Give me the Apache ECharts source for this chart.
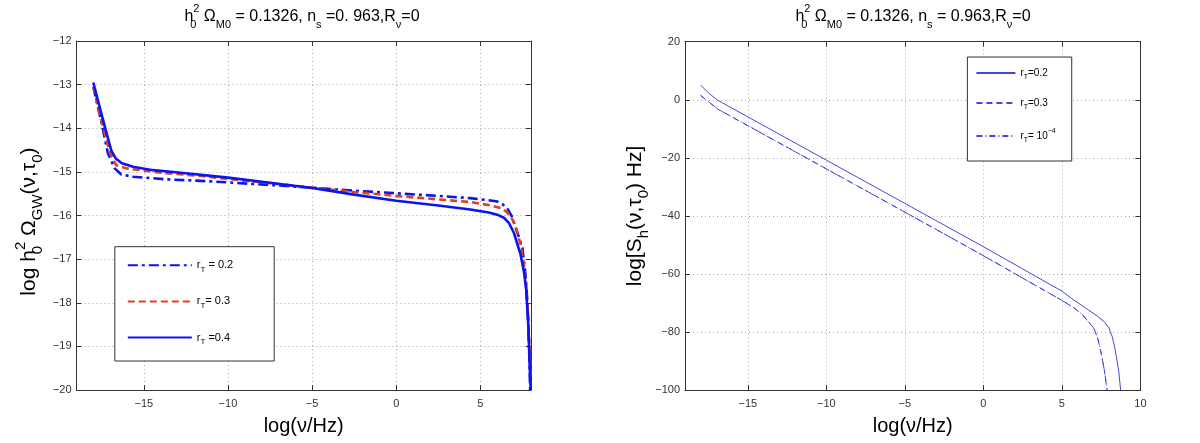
<!DOCTYPE html>
<html><head><meta charset="utf-8">
<script src="https://cdn.jsdelivr.net/npm/echarts@6/dist/echarts.min.js"></script>
<style>html,body{margin:0;padding:0;background:#fff}#c{width:1200px;height:443px}</style>
</head><body><div id="c"></div>
<script>
// ---------- data ----------
// Left panel: log h0^2 Omega_GW(nu,tau0) vs log(nu/Hz)
const omegaR02 = [[-18,-13.05],[-17.5,-13.9],[-17.13,-14.58],[-16.73,-14.92],[-16.34,-15.06],[-15.64,-15.11],[-13.66,-15.17],[-11.88,-15.2],[-10,-15.24],[-7.5,-15.3],[-5,-15.36],[-2.5,-15.43],[0,-15.49],[2.5,-15.55],[4.4,-15.6],[5.5,-15.65],[6.02,-15.68],[6.35,-15.75],[6.59,-15.83],[6.85,-16.0],[7.04,-16.21],[7.3,-16.5],[7.5,-16.74],[7.7,-17.4],[7.82,-18.2],[7.92,-19.3],[7.96,-20]];
const omegaR03 = [[-18,-13.05],[-17.5,-13.85],[-17.03,-14.55],[-16.63,-14.85],[-16.0,-14.92],[-15.0,-14.97],[-13.66,-15.03],[-12,-15.08],[-10,-15.16],[-7.5,-15.26],[-5,-15.36],[-2.5,-15.46],[0,-15.55],[2.5,-15.63],[4.4,-15.69],[5.5,-15.76],[6.25,-15.83],[6.6,-15.93],[6.82,-16.02],[7.1,-16.25],[7.39,-16.66],[7.6,-17.15],[7.75,-17.7],[7.88,-18.6],[7.96,-19.4],[8.0,-19.9]];
const omegaR04 = [[-18,-12.95],[-17.6,-13.55],[-17.23,-14.09],[-16.93,-14.51],[-16.65,-14.7],[-16.3,-14.8],[-15.64,-14.88],[-14.45,-14.96],[-12.8,-15.02],[-10,-15.13],[-7.5,-15.25],[-5,-15.37],[-2.5,-15.52],[0,-15.66],[2.5,-15.77],[4.4,-15.86],[5.5,-15.93],[6.0,-15.98],[6.4,-16.05],[6.7,-16.17],[7.0,-16.4],[7.39,-16.89],[7.6,-17.3],[7.73,-17.72],[7.85,-18.5],[7.95,-19.6],[8.0,-20]];
// Right panel: log[S_h(nu,tau0) Hz] vs log(nu/Hz)
const shR02 = [[-18,5],[-17.45,2.1],[-16.92,-0.17],[-10,-20.8],[-5,-35.7],[0,-50.6],[5.03,-66.0],[5.6,-68.4],[6.5,-71.7],[7.28,-74.6],[7.7,-76.5],[8.0,-78.6],[8.2,-81.5],[8.37,-85.4],[8.62,-93.4],[8.74,-100]];
const shR03 = [[-18,1.5],[-17.45,-0.9],[-16.92,-3.2],[-10,-23.8],[-5,-38.7],[0,-53.7],[5.03,-69.2],[5.84,-71.9],[6.3,-74.0],[7.03,-78.6],[7.3,-82.5],[7.52,-87.7],[7.7,-93],[7.88,-100]];
const shR1e4 = [[-18,1.5],[-17.45,-0.9],[-16.92,-3.2],[-10,-23.8],[-5,-38.7],[0,-53.7],[5.03,-69.2],[5.84,-71.9],[6.3,-74.0],[7.03,-78.6],[7.3,-82.5],[7.52,-87.7],[7.7,-93],[7.88,-100]];
// axis ranges
const leftXRange = [-19, 8], leftYRange = [-20, -12], leftYStep = 1;
const rightXRange = [-19, 10], rightYRange = [-100, 20], rightYStep = 20;
// texts
const leftTitle = '{m|h}{z|0}{p|2}{m| Ω}{b|M0}{m| = 0.1326, n}{b|s}{m| =0. 963,R}{b|ν}{m|=0}';
const rightTitle = '{m|h}{z|0}{p|2}{m| Ω}{b|M0}{m| = 0.1326, n}{b|s}{m| = 0.963,R}{b|ν}{m|=0}';
const leftYName = '{m|log h}{z|0}{p|2}{m| Ω}{b|GW}{m|(ν,τ}{b|0}{m|)}';
const rightYName = '{m|log[S}{b|h}{m|(ν,τ}{b|0}{m|) Hz]}';
const xName = 'log(ν/Hz)';
const leftLegend = {L02:'{a|r}{s|T}{a| = 0.2}', L03:'{a|r}{s|T}{a|= 0.3}', L04:'{a|r}{s|T}{a| =0.4}'};
const rightLegend = {R02:'{a|r}{s|T}{a|=0.2}', R03:'{a|r}{s|T}{a|=0.3}', R1e4:'{a|r}{s|T}{a|= 10}{p|−4}'};

// ---------- chart ----------
const FONT = 'Liberation Sans, Arial, Helvetica, sans-serif';
const AX = '#333';
const minus = v => String(v).replace('-', '−');
function bigRich(fs, small) {
  return {
    m: {fontSize: fs, fontFamily: FONT, color: '#000', fill: '#000', lineHeight: fs + 11},
    b: {fontSize: small, fontFamily: FONT, color: '#000', fill: '#000', lineHeight: small + 1, verticalAlign: 'bottom'},
    p: {fontSize: small, fontFamily: FONT, color: '#000', fill: '#000', lineHeight: small + 1, verticalAlign: 'top'},
    z: {fontSize: small, fontFamily: FONT, color: '#000', fill: '#000', lineHeight: small + 1, verticalAlign: 'bottom', width: 0}
  };
}
function axes(g, xr, yr, ystep, showMaxX, yName, yGap, yPad) {
  const xs = [{
    type: 'value', gridIndex: g, min: xr[0], max: xr[1], position: 'bottom', splitNumber: 5,
    axisLine: {show: true, onZero: false, lineStyle: {color: AX, width: 1}},
    axisTick: {show: true, inside: true, length: 5, lineStyle: {color: AX}},
    axisLabel: {fontSize: 11, color: '#333', fontFamily: FONT, margin: 8,
      formatter: v => (v % 5 === 0 && (showMaxX || v !== xr[1])) ? minus(v) : ''},
    splitLine: {show: true, lineStyle: {color: '#aaa', type: [1, 3]}},
    name: xName, nameLocation: 'middle', nameGap: 11,
    nameTextStyle: {fontSize: 20, fontFamily: FONT, color: '#000', lineHeight: 24}
  }, {
    type: 'value', gridIndex: g, min: xr[0], max: xr[1], position: 'top', splitNumber: 5,
    axisLine: {show: true, onZero: false, lineStyle: {color: AX, width: 1}},
    axisTick: {show: true, inside: true, length: 5, lineStyle: {color: AX}},
    axisLabel: {show: false}, splitLine: {show: false}
  }];
  const ys = [{
    type: 'value', gridIndex: g, min: yr[0], max: yr[1], interval: ystep, position: 'left',
    axisLine: {show: true, onZero: false, lineStyle: {color: AX, width: 1}},
    axisTick: {show: true, inside: true, length: 5, lineStyle: {color: AX}},
    axisLabel: {fontSize: 11, color: '#333', fontFamily: FONT, margin: 5, formatter: v => minus(v)},
    splitLine: {show: true, lineStyle: {color: '#aaa', type: [1, 3]}},
    name: yName, nameLocation: 'middle', nameGap: yGap, nameRotate: 90,
    nameTextStyle: {rich: bigRich(21, 15), padding: yPad}
  }, {
    type: 'value', gridIndex: g, min: yr[0], max: yr[1], interval: ystep, position: 'right',
    axisLine: {show: true, onZero: false, lineStyle: {color: AX, width: 1}},
    axisTick: {show: true, inside: true, length: 5, lineStyle: {color: AX}},
    axisLabel: {show: false}, splitLine: {show: false}
  }];
  return {xs, ys};
}
const A = axes(0, leftXRange, leftYRange, leftYStep, false, leftYName, 31, [0, 12, 0, 0]);
const B = axes(1, rightXRange, rightYRange, rightYStep, true, rightYName, 33, [0, 0, 0, 0]);

function line(name, data, xi, yi, color, width, type) {
  return {name, type: 'line', data, xAxisIndex: xi, yAxisIndex: yi, symbol: 'none', showSymbol: false,
    smooth: false, clip: true,
    lineStyle: {color, width, type}, itemStyle: {color}};
}
const BLUE = '#0a14f0', RED = '#e0401c', RB = '#4646dc';
const legendRich = (fs, sfs) => ({
  a: {fontSize: fs, fontFamily: FONT, color: '#000', lineHeight: fs + 6},
  s: {fontSize: sfs, fontFamily: FONT, color: '#000', lineHeight: sfs, verticalAlign: 'bottom'},
  p: {fontSize: sfs, fontFamily: FONT, color: '#000', lineHeight: sfs, verticalAlign: 'top'}
});

const option = {
  animation: false,
  backgroundColor: '#fff',
  grid: [
    {left: 76.5, top: 41, width: 454.3, height: 353, containLabel: false},
    {left: 685, top: 41.7, width: 455.4, height: 351, containLabel: false}
  ],
  xAxis: [...A.xs, ...B.xs],
  yAxis: [...A.ys, ...B.ys],
  legend: [{
    data: ['L02', 'L03', 'L04'], orient: 'vertical', left: 114.8, top: 246.7,
    itemWidth: 64, itemHeight: 14, itemGap: 22, padding: [13, 41, 15, 12],
    borderColor: '#333', borderWidth: 1, borderRadius: 0, backgroundColor: '#fff',
    itemStyle: {opacity: 0},
    formatter: n => leftLegend[n], textStyle: {rich: legendRich(11, 8)}, selectedMode: false
  }, {
    data: ['R02', 'R03', 'R1e4'], orient: 'vertical', left: 967.4, top: 57,
    itemWidth: 39, itemHeight: 10, itemGap: 17, padding: [11, 16, 17, 8],
    borderColor: '#333', borderWidth: 1, borderRadius: 0, backgroundColor: '#fff',
    itemStyle: {opacity: 0},
    formatter: n => rightLegend[n], textStyle: {rich: legendRich(10, 7)}, selectedMode: false
  }],
  series: [
    line('L02', omegaR02, 0, 0, BLUE, 2.6, [10, 4, 3, 4]),
    line('L03', omegaR03, 0, 0, RED, 2.6, [7, 4]),
    line('L04', omegaR04, 0, 0, BLUE, 2.6, 'solid'),
    line('R02', shR02, 2, 2, RB, 1, 'solid'),
    line('R03', shR03, 2, 2, RB, 1, [6, 4]),
    line('R1e4', shR1e4, 2, 2, RB, 1, [6, 3, 1, 3])
  ],
  graphic: [
    {type: 'text', x: 302, y: 17, style: {text: leftTitle, rich: bigRich(16, 11), align: 'center', verticalAlign: 'middle'}},
    {type: 'text', x: 913, y: 17, style: {text: rightTitle, rich: bigRich(16, 11), align: 'center', verticalAlign: 'middle'}}
  ]
};
const chart = echarts.init(document.getElementById('c'), null, {renderer: 'canvas'});
chart.setOption(option);
</script></body></html>
